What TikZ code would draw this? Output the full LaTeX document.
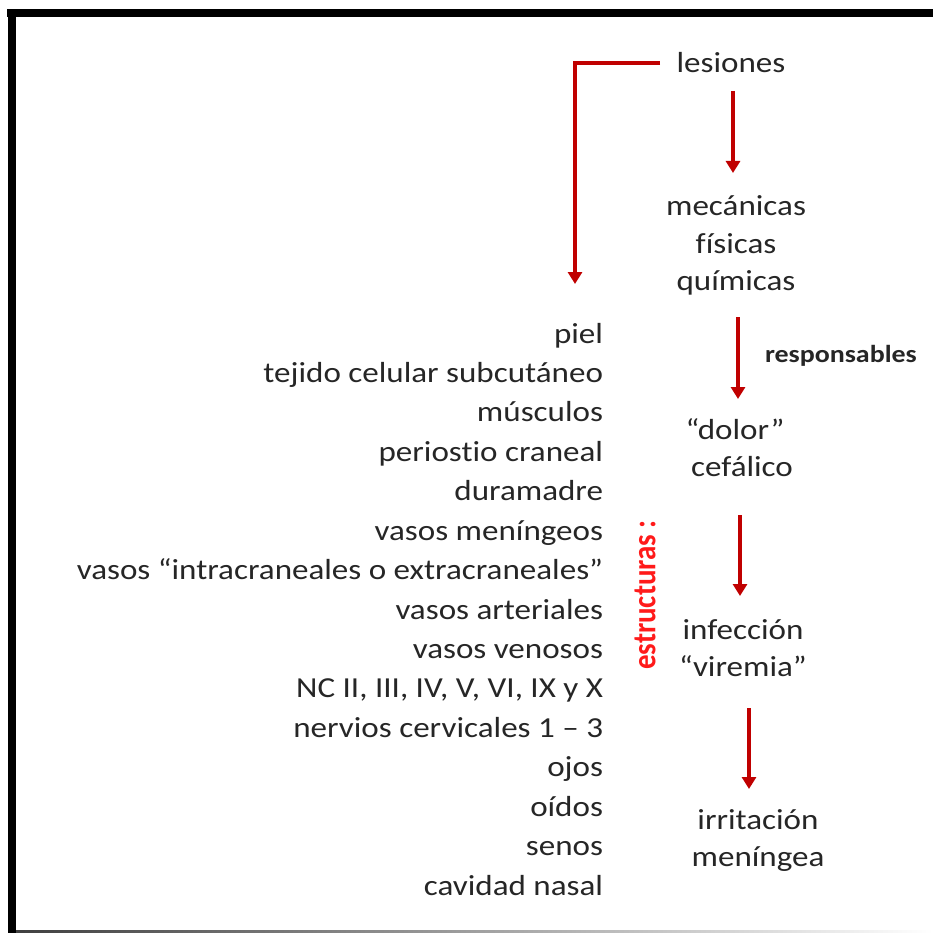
\documentclass[tikz,border=0pt]{standalone}
\usepackage{fontspec}
\setmainfont[Ligatures={TeX,NoCommon}]{Carlito}
\usetikzlibrary{arrows.meta}
\definecolor{arrred}{HTML}{C00000}
\definecolor{labred}{HTML}{FF1A1A}
\definecolor{txtc}{HTML}{262626}
\newcommand{\sx}[1]{\scalebox{1.14}[1]{#1}}
\tikzset{
  txt/.style={inner sep=0pt, outer sep=0pt, text=txtc, font=\fontsize{29}{36}\selectfont},
  item/.style={txt, anchor=base east},
  lbl/.style={txt, anchor=base},
  arr/.style={draw=arrred, line width=3.2pt, -{Triangle[width=14pt,length=12pt]}},
}
\begin{document}
\begin{tikzpicture}[x=1pt,y=-1pt]
\useasboundingbox (0,0) rectangle (933,933);
\fill[white] (0,0) rectangle (933,933);
% frame
\fill[black] (7,9) rectangle (933,17);
\fill[black] (8,9) rectangle (16,933);
\shade[left color=black!75, right color=white] (16,930.5) rectangle (933,932.5);

% right column
\node[lbl] (les) at (731,73) {\sx{lesiones}};
\node[lbl] (mec) at (736,216) {\sx{mecánicas}};
\node[lbl] (fis) at (736,253) {\sx{físicas}};
\node[lbl] (qui) at (736,290) {\sx{químicas}};
\node[lbl] (dol) at (735,439) {\sx{“dolor”}};
\node[lbl] (cef) at (742,476) {\sx{cefálico}};
\node[lbl] (inf) at (743,639) {\sx{infección}};
\node[lbl] (vir) at (743,676) {\sx{“viremia”}};
\node[lbl] (irr) at (758,829) {\sx{irritación}};
\node[lbl] (men) at (758,866) {\sx{meníngea}};
\node[txt, anchor=base west, font=\fontsize{24.5}{30}\selectfont\bfseries] (resp) at (765,362) {\sx{responsables}};
\node[inner sep=0pt, text=labred, font=\fontsize{29}{36}\selectfont\bfseries] (estr) at (645,595) {\sx{\rotatebox{90}{estructuras :}}};

% list
\foreach \t [count=\i from 0] in {piel, tejido celular subcutáneo, músculos, periostio craneal, duramadre, vasos meníngeos, vasos “intracraneales o extracraneales”, vasos arteriales, vasos venosos, {NC II, III, IV, V, VI, IX y X}, nervios cervicales 1 – 3, ojos, oídos, senos, cavidad nasal}{
  \node[item] (l\i) at (603,343+\i*39.43) {\sx{\t}};
}

% connectors
\coordinate (b0) at (660,63);
\coordinate (b1) at (575,63);
\coordinate (b2) at (575,284);
\draw[arr] (b0) -- (b1) -- (b2);
\coordinate (a1s) at (733,91);  \coordinate (a1e) at (733,173);
\coordinate (a2s) at (738,317); \coordinate (a2e) at (738,399);
\coordinate (a3s) at (740,515); \coordinate (a3e) at (740,596);
\coordinate (a4s) at (749,708); \coordinate (a4e) at (749,789);
\draw[arr] (a1s) -- (a1e);
\draw[arr] (a2s) -- (a2e);
\draw[arr] (a3s) -- (a3e);
\draw[arr] (a4s) -- (a4e);
\end{tikzpicture}
\end{document}
